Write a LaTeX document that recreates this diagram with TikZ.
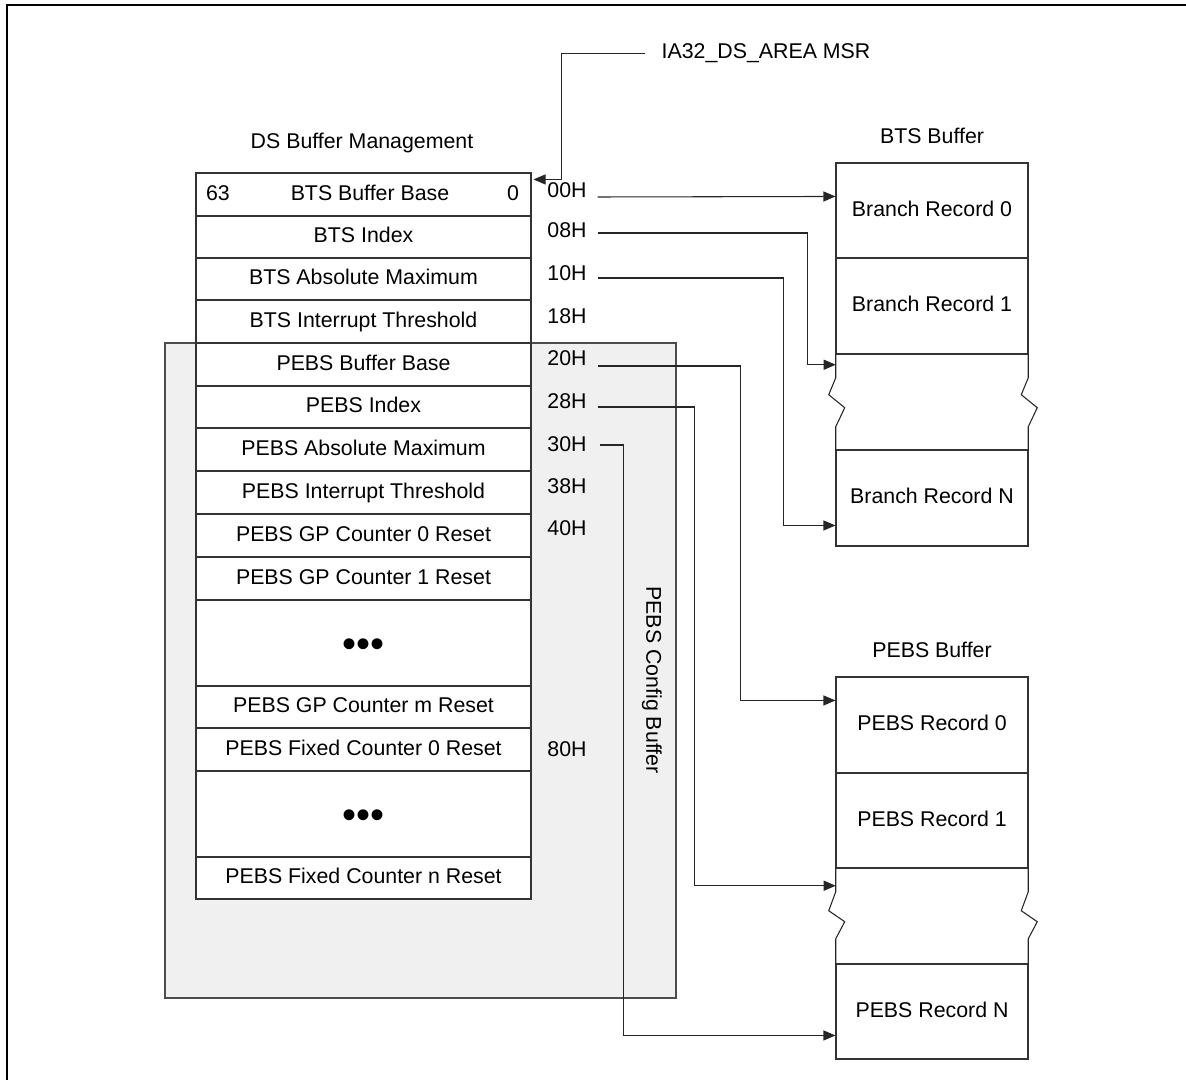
\documentclass[tikz,border=0pt]{standalone}
\usepackage{fontspec}
\setmainfont{Liberation Sans}
\usetikzlibrary{arrows.meta,calc}
\begin{document}
\begin{tikzpicture}[x=0.75pt,y=-0.75pt,
  font=\fontsize{16}{19}\selectfont,
  ln/.style={draw=black!85, line width=0.8pt},
  arr/.style={ln, -{Triangle[length=9pt,width=7.5pt]}},
  row/.style={draw=black!80, fill=white, line width=0.8pt, minimum width=251.25pt,
    inner sep=0pt, text height=0.85em, text depth=0pt},
  rec/.style={draw=black!80, fill=white, line width=0.8pt, minimum width=144pt,
    inner sep=0pt, text height=0.85em, text depth=0pt},
  gap/.style={minimum width=144pt, inner sep=0pt},
  lbl/.style={inner sep=0pt, text height=0.85em, text depth=0pt},
  dots/.style={inner sep=0pt, font=\fontsize{30}{30}\selectfont}]

\useasboundingbox (0,0) rectangle (1186,1080);
\draw[line width=1.3pt] (7,1080) -- (7,5) -- (1186,5);

% PEBS config buffer (grey)
\node[draw=black!70, fill=black!6, line width=0.8pt, minimum width=383.25pt,
  minimum height=491.25pt, inner sep=0pt] (cfg) at (420.5,670.5) {};
\node[lbl, rotate=-90] (cfgtxt) at (652,680) {PEBS Config Buffer};

% DS buffer management table
\node[lbl] (dstitle) at (362,143) {DS Buffer Management};
\node[row, minimum height=32.25pt] (r0)  at (363.5,194.5) {};
\node[lbl] (r0a) at (218,194.5) {63};
\node[lbl] (r0b) at (370,194.5) {BTS Buffer Base};
\node[lbl] (r0c) at (513,194.5) {0};
\node[row, minimum height=31.5pt]  (r1)  at (363.5,237)   {BTS Index};
\node[row, minimum height=31.5pt]  (r2)  at (363.5,279)   {BTS Absolute Maximum};
\node[row, minimum height=32.25pt] (r3)  at (363.5,321.5) {BTS Interrupt Threshold};
\node[row, minimum height=32.25pt] (r4)  at (363.5,364.5) {PEBS Buffer Base};
\node[row, minimum height=31.5pt]  (r5)  at (363.5,407)   {PEBS Index};
\node[row, minimum height=32.25pt] (r6)  at (363.5,449.5) {PEBS Absolute Maximum};
\node[row, minimum height=32.25pt] (r7)  at (363.5,492.5) {PEBS Interrupt Threshold};
\node[row, minimum height=32.25pt] (r8)  at (363.5,535.5) {PEBS GP Counter 0 Reset};
\node[row, minimum height=32.25pt] (r9)  at (363.5,578.5) {PEBS GP Counter 1 Reset};
\node[row, minimum height=64.5pt]  (r10) at (363.5,643)   {};
\node[dots] (d1) at (363.5,648) {•••};
\node[row, minimum height=31.5pt]  (r11) at (363.5,707)   {PEBS GP Counter m Reset};
\node[row, minimum height=32.25pt] (r12) at (363.5,749.5) {PEBS Fixed Counter 0 Reset};
\node[row, minimum height=64.5pt]  (r13) at (363.5,814)   {};
\node[dots] (d2) at (363.5,819) {•••};
\node[row, minimum height=31.5pt]  (r14) at (363.5,878)   {PEBS Fixed Counter n Reset};

% offsets
\node[lbl] (o00) at (567,192) {00H};
\node[lbl] (o08) at (567,232) {08H};
\node[lbl] (o10) at (567,275) {10H};
\node[lbl] (o18) at (567,318) {18H};
\node[lbl] (o20) at (567,360) {20H};
\node[lbl] (o28) at (567,403) {28H};
\node[lbl] (o30) at (567,446) {30H};
\node[lbl] (o38) at (567,488) {38H};
\node[lbl] (o40) at (567,530) {40H};
\node[lbl] (o80) at (567,751) {80H};

% MSR
\node[lbl] (msr) at (766,52.5) {IA32\_DS\_AREA MSR};

% BTS buffer
\node[lbl] (btstitle) at (932,138) {BTS Buffer};
\node[rec, minimum height=71.25pt] (br0) at (932,210.5) {Branch Record 0};
\node[rec, minimum height=72pt]    (br1) at (932,306)   {Branch Record 1};
\node[gap, minimum height=72pt]    (brgap) at (932,402) {};
\node[rec, minimum height=72pt]    (brN) at (932,498)   {Branch Record N};
\draw[ln] (brgap.north west) -- ++(0,24) -- ++(-7,17) -- ++(16,13) -- ++(-9,19) -- (brgap.south west);
\draw[ln] (brgap.north east) -- ++(0,24) -- ++(-7,17) -- ++(16,13) -- ++(-9,19) -- (brgap.south east);

% PEBS buffer
\node[lbl] (pebstitle) at (932,652) {PEBS Buffer};
\node[rec, minimum height=72pt]    (pr0) at (932,725)    {PEBS Record 0};
\node[rec, minimum height=71.25pt] (pr1) at (932,820.5)  {PEBS Record 1};
\node[gap, minimum height=72pt]    (pgap) at (932,916)   {};
\node[rec, minimum height=71.25pt] (prN) at (932,1011.5) {PEBS Record N};
\draw[ln] (pgap.north west) -- ++(0,24) -- ++(-7,19) -- ++(16,11) -- ++(-9,17) -- (pgap.south west);
\draw[ln] (pgap.north east) -- ++(0,24) -- ++(-7,19) -- ++(16,11) -- ++(-9,17) -- (pgap.south east);

% connectors
\draw[arr] ([xshift=-12pt,yshift=-1pt]msr.west) -| ($(r0.north east)+(30,7)$) -- ($(r0.north east)+(2,7)$);
\draw[arr] ([xshift=8pt,yshift=-3.75pt]o00.east) -- ($(br0.north west)+(0,34)$);
\draw[arr] ([xshift=8pt,yshift=-0.75pt]o08.east) -| ($(brgap.north west)+(-28,11)$) -- ($(brgap.north west)+(0,11)$);
\draw[arr] ([xshift=8pt,yshift=-2.25pt]o10.east) -| ($(brN.north west)+(-52,76)$) -- ($(brN.north west)+(0,76)$);
\draw[arr] ([xshift=8pt,yshift=-4.5pt]o20.east) -| ($(pr0.north west)+(-95,24)$) -- ($(pr0.north west)+(0,24)$);
\draw[arr] ([xshift=8pt,yshift=-3pt]o28.east) -| ($(pgap.north west)+(-141,18)$) -- ($(pgap.north west)+(0,18)$);
\draw[arr] ([xshift=10pt,yshift=0.75pt]o30.east) -| ($(prN.north west)+(-212,72)$) -- ($(prN.north west)+(0,72)$);
\end{tikzpicture}
\end{document}
